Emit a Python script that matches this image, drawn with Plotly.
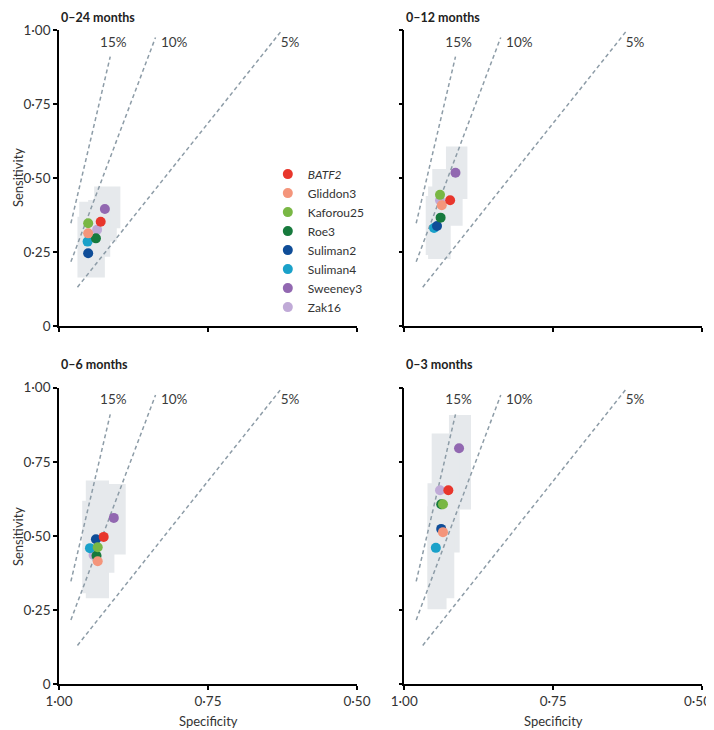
import plotly.graph_objects as go
from plotly.subplots import make_subplots

# signatures, legend order
signatures = ["<i>BATF2</i>", "Gliddon3", "Kaforou25", "Roe3", "Suliman2", "Suliman4", "Sweeney3", "Zak16"]
colors = ["#e8362c", "#f4957b", "#79b744", "#177a3d", "#0f4d98", "#1aa1c9", "#9268b1", "#c0aad7"]

panel_titles = ["0–24 months", "0–12 months", "0–6 months", "0–3 months"]

# point estimates (specificity, sensitivity) per panel, same order as signatures
spec_24 = [0.930, 0.951, 0.951, 0.938, 0.951, 0.952, 0.923, 0.936]
sens_24 = [0.352, 0.313, 0.347, 0.296, 0.246, 0.285, 0.395, 0.325]
spec_12 = [0.923, 0.937, 0.940, 0.939, 0.945, 0.950, 0.914, 0.940]
sens_12 = [0.425, 0.408, 0.443, 0.366, 0.338, 0.331, 0.518, 0.425]
spec_6 = [0.925, 0.935, 0.935, 0.937, 0.938, 0.948, 0.908, 0.942]
sens_6 = [0.497, 0.415, 0.462, 0.433, 0.489, 0.459, 0.561, 0.436]
spec_3 = [0.926, 0.935, 0.935, 0.938, 0.938, 0.947, 0.908, 0.940]
sens_3 = [0.654, 0.513, 0.607, 0.607, 0.524, 0.460, 0.796, 0.654]

# shaded 95% CI boxes: (spec_low, spec_high, sens_low, sens_high)
boxes_24 = [(0.897, 0.941, 0.330, 0.471), (0.903, 0.951, 0.285, 0.426),
            (0.914, 0.958, 0.234, 0.409), (0.923, 0.969, 0.164, 0.369),
            (0.924, 0.966, 0.257, 0.420)]
boxes_12 = [(0.894, 0.930, 0.429, 0.606), (0.902, 0.953, 0.339, 0.530),
            (0.922, 0.960, 0.226, 0.471), (0.925, 0.964, 0.240, 0.439)]
boxes_6 = [(0.916, 0.955, 0.290, 0.687), (0.888, 0.916, 0.438, 0.675),
           (0.950, 0.961, 0.307, 0.619), (0.907, 0.920, 0.376, 0.440)]
boxes_3 = [(0.888, 0.925, 0.589, 0.908), (0.907, 0.954, 0.444, 0.846),
           (0.916, 0.961, 0.290, 0.678), (0.929, 0.961, 0.253, 0.600)]

# PPV reference lines
ppv_labels = ["15%", "10%", "5%"]
ppv_spec_start = [0.980, 0.980, 0.969]
ppv_sens_start = [0.347, 0.217, 0.131]
ppv_spec_end = [0.914, 0.838, 0.628]
ppv_sens_end = [0.910, 0.975, 0.994]
ppv_label_spec = [0.931, 0.829, 0.628]
ppv_label_sens = [0.955, 0.955, 0.955]

sens_ticks = [0, 0.25, 0.5, 0.75, 1.0]
sens_ticktext = ["0", "0·25", "0·50", "0·75", "1·00"]
spec_ticks = [1.0, 0.75, 0.5]
spec_ticktext = ["1·00", "0·75", "0·50"]

FONT = "Lato"
panels = [(1, 1, spec_24, sens_24, boxes_24), (1, 2, spec_12, sens_12, boxes_12),
          (2, 1, spec_6, sens_6, boxes_6), (2, 2, spec_3, sens_3, boxes_3)]

fig = make_subplots(rows=2, cols=2)

for k, (r, c, sp, se, boxes) in enumerate(panels):
    for b in boxes:
        fig.add_shape(type="rect", x0=b[0], x1=b[1], y0=b[2], y1=b[3],
                      fillcolor="#e6e9ec", line_width=0, layer="below", row=r, col=c)
    for i in range(len(ppv_labels)):
        fig.add_trace(go.Scatter(x=[ppv_spec_start[i], ppv_spec_end[i]],
                                 y=[ppv_sens_start[i], ppv_sens_end[i]],
                                 mode="lines", showlegend=False, hoverinfo="skip",
                                 line=dict(color="#8d9ca7", width=1.5, dash="4px,3px")),
                      row=r, col=c)
        fig.add_trace(go.Scatter(x=[ppv_label_spec[i]], y=[ppv_label_sens[i]], mode="text",
                                 text=[ppv_labels[i]], textposition="middle right",
                                 textfont=dict(family=FONT, size=13.5, color="#3a3a3a"),
                                 showlegend=False, hoverinfo="skip"),
                      row=r, col=c)
    # draw last signature first so earlier ones sit on top
    for j in reversed(range(len(signatures))):
        fig.add_trace(go.Scatter(x=[sp[j]], y=[se[j]], mode="markers", name=signatures[j],
                                 legendgroup=signatures[j], showlegend=(k == 0),
                                 marker=dict(color=colors[j], size=10, line_width=0)),
                      row=r, col=c)

# page body has an 8px margin, so the figure is 8px smaller each way
x_left, x_right = [0.0722, 0.4943], [0.5613, 0.9830]
y_top, y_bot = [0.5596, 0.9695], [0.0633, 0.4741]
domains = {(1, 1): (x_left, y_top), (1, 2): (x_right, y_top),
           (2, 1): (x_left, y_bot), (2, 2): (x_right, y_bot)}

for (r, c), (dx, dy) in domains.items():
    # last label of the bottom-right panel sits at the page edge; drawn as an annotation
    xt = spec_ticktext[:-1] + [""] if (r, c) == (2, 2) else spec_ticktext
    fig.update_xaxes(domain=dx, range=[1.0, 0.5], tickvals=spec_ticks, ticktext=xt,
                     showticklabels=(r == 2), ticks="outside", ticklen=4, tickwidth=1.5,
                     tickcolor="black", showline=True, linecolor="black", linewidth=1.5,
                     showgrid=False, zeroline=False, automargin=False,
                     tickfont=dict(family=FONT, size=13.5, color="#333"), row=r, col=c)
    fig.update_yaxes(domain=dy, range=[0, 1.0], tickvals=sens_ticks, ticktext=sens_ticktext,
                     showticklabels=(c == 1), ticks="outside", ticklen=4, tickwidth=1.5,
                     tickcolor="black", showline=True, linecolor="black", linewidth=1.5,
                     showgrid=False, zeroline=False, automargin=False,
                     tickfont=dict(family=FONT, size=13.5, color="#333"), row=r, col=c)

ann = []
title_pos = [(0.0722, 1.0, "top"), (0.5613, 1.0, "top"),
             (0.0722, 0.5069, "middle"), (0.5613, 0.5069, "middle")]
for t, (x, y, ya) in zip(panel_titles, title_pos):
    ann.append(dict(x=x, y=y, xref="paper", yref="paper", text="<b>" + t + "</b>",
                    showarrow=False, xanchor="left", yanchor=ya,
                    font=dict(family=FONT, size=12.5, color="#222")))
for y in [0.7645, 0.2673]:
    ann.append(dict(x=0.0, y=y, xref="paper", yref="paper", text="Sensitivity",
                    textangle=-90, showarrow=False, xanchor="left", yanchor="middle",
                    font=dict(family=FONT, size=13, color="#333")))
for x in [0.2833, 0.7720]:
    ann.append(dict(x=x, y=0.0125, xref="paper", yref="paper", text="Specificity",
                    showarrow=False, xanchor="center", yanchor="middle",
                    font=dict(family=FONT, size=13, color="#333")))
ann.append(dict(x=1.0, y=0.0405, xref="paper", yref="paper", text=spec_ticktext[-1],
                showarrow=False, xanchor="right", yanchor="middle", xshift=-1,
                font=dict(family=FONT, size=13.5, color="#333")))

fig.update_layout(
    width=706, height=722, margin=dict(l=0, r=0, t=0, b=0),
    paper_bgcolor="white", plot_bgcolor="white",
    font=dict(family=FONT, size=13, color="#333"),
    annotations=ann,
    legend=dict(x=0.368, y=0.790, xanchor="left", yanchor="top", traceorder="reversed",
                font=dict(family=FONT, size=12, color="#333"), itemwidth=30,
                tracegroupgap=0, bgcolor="rgba(0,0,0,0)"),
)

fig.write_html("out.html")
